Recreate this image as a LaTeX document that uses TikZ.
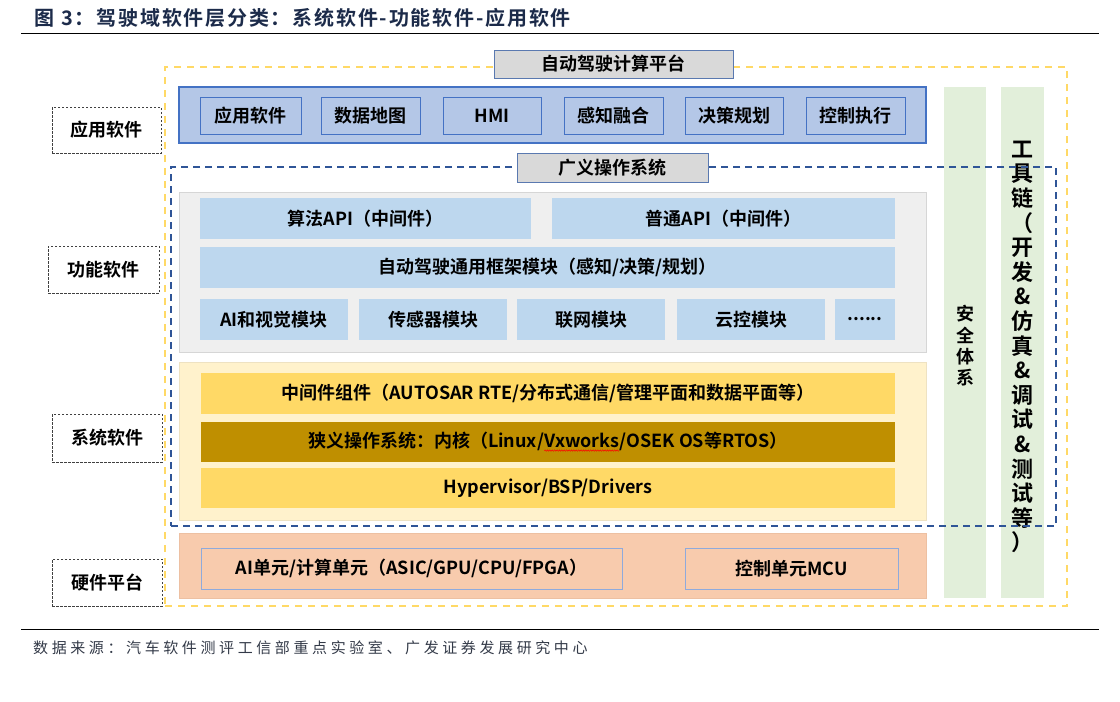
\documentclass[tikz,border=0pt]{standalone}
\usepackage{fontspec}
\setmainfont{Noto Sans CJK SC}[BoldFont=* Bold]
\newfontfamily\titlefont{Noto Sans CJK SC}[BoldFont=* Bold, LetterSpace=9]
\newfontfamily\capfont{Noto Sans CJK SC}[LetterSpace=24]
\usetikzlibrary{decorations.pathmorphing}
\definecolor{appfill}{HTML}{B4C7E7}
\definecolor{appline}{HTML}{4472C4}
\definecolor{funcbg}{HTML}{EFEFEF}
\definecolor{funcline}{HTML}{D6D6D6}
\definecolor{funcbox}{HTML}{BDD7EE}
\definecolor{sysbg}{HTML}{FFF2CC}
\definecolor{sysline}{HTML}{EEE2C2}
\definecolor{sysbox}{HTML}{FFD966}
\definecolor{osbox}{HTML}{BF8F00}
\definecolor{hwbg}{HTML}{F8CBAD}
\definecolor{hwedge}{HTML}{EDC0A2}
\definecolor{hwline}{HTML}{8FAADC}
\definecolor{greencol}{HTML}{E2EFDA}
\definecolor{graylbl}{HTML}{D9D9D9}
\definecolor{lblline}{HTML}{5A79B0}
\definecolor{dashblue}{HTML}{2F5597}
\definecolor{dashyellow}{HTML}{FFD966}
\definecolor{titlecol}{HTML}{1C2B4A}
\definecolor{capcol}{HTML}{333A48}
\newcommand\mybox[7]{\node[inner sep=0pt, outer sep=0pt, #6, minimum width={#4-#2}, minimum height={#5-#3}] (#1) at ({(#2+#4)/2},{(#3+#5)/2}) {#7};}
\tikzset{
  tx/.style={align=center, font=\fontsize{18}{21.6}\selectfont\bfseries, text=black},
  outerdash/.style={draw=dashyellow, line width=2pt, dash pattern=on 7pt off 6pt},
  platelbl/.style={tx, draw=lblline, line width=1pt, fill=graylbl},
  appcont/.style={draw=appline, line width=1.2pt, fill=appfill},
  appitem/.style={tx, draw=appline, line width=1pt, fill=appfill},
  funccont/.style={draw=funcline, line width=0.8pt, fill=funcbg},
  funcitem/.style={tx, fill=funcbox},
  syscont/.style={draw=sysline, line width=0.8pt, fill=sysbg},
  sysitem/.style={tx, fill=sysbox},
  ositem/.style={tx, fill=osbox},
  hwcont/.style={draw=hwedge, line width=0.8pt, fill=hwbg},
  hwitem/.style={tx, draw=hwline, line width=1pt, fill=hwbg},
  colbox/.style={fill=greencol},
  bluedash/.style={draw=dashblue, line width=1.6pt, dash pattern=on 7pt off 5pt},
  sidelbl/.style={tx, draw=black!75, line width=0.8pt, dash pattern=on 2.5pt off 1.5pt, fill=white},
  inword/.style={inner sep=0pt, outer sep=0pt, minimum width=0pt, minimum height=0pt, fill=none, draw=none, text=black},
  squig/.style={draw=red, line width=0.5pt, solid, decorate, decoration={snake, amplitude=0.7pt, segment length=2.4pt}}
}
\begin{document}
\begin{tikzpicture}[x=1pt,y=-1pt]
\useasboundingbox[fill=white] (0,0) rectangle (1120,702);

% title and rules
\node[anchor=west, inner sep=0pt, text=titlecol, font=\titlefont\bfseries\fontsize{20}{24}\selectfont] (title) at (34,18) {图\hspace{7pt}3：驾驶域软件层分类：系统软件-功能软件-应用软件};
\coordinate (r1a) at (21,33); \coordinate (r1b) at (1099,33);
\coordinate (r2a) at (21,629); \coordinate (r2b) at (1099,629);
\draw[line width=1pt] (r1a) -- (r1b);
\draw[line width=1pt] (r2a) -- (r2b);
\node[anchor=west, inner sep=0pt, text=capcol, font=\capfont\fontsize{15}{18}\selectfont] (src) at (33,648) {数据来源：汽车软件测评工信部重点实验室、广发证券发展研究中心};

% outer platform
\mybox{outer}{165}{67}{1067}{606}{outerdash}{}
\mybox{platform}{494}{50}{733}{78}{platelbl}{自动驾驶计算平台}

% application layer
\mybox{app}{179}{87}{926}{143}{appcont}{}
\mybox{a1}{200}{97}{301}{134}{appitem}{应用软件}
\mybox{a2}{321}{97}{420}{134}{appitem}{数据地图}
\mybox{a3}{443}{97}{541}{134}{appitem}{HMI}
\mybox{a4}{564}{97}{663}{134}{appitem}{感知融合}
\mybox{a5}{685}{97}{783}{134}{appitem}{决策规划}
\mybox{a6}{806}{97}{905}{134}{appitem}{控制执行}

% function layer
\mybox{func}{179}{192}{926}{352}{funccont}{}
\mybox{f1}{200}{198}{531}{239}{funcitem}{算法API（中间件）}
\mybox{f2}{552}{198}{895}{239}{funcitem}{普通API（中间件）}
\mybox{f3}{200}{247}{895}{288}{funcitem}{自动驾驶通用框架模块（感知/决策/规划）}
\mybox{f4}{200}{299}{348}{340}{funcitem}{AI和视觉模块}
\mybox{f5}{359}{299}{507}{340}{funcitem}{传感器模块}
\mybox{f6}{517}{299}{665}{340}{funcitem}{联网模块}
\mybox{f7}{677}{299}{825}{340}{funcitem}{云控模块}
\mybox{f8}{835}{299}{895}{340}{funcitem}{......}

% system layer
\mybox{sys}{179}{362}{926}{520}{syscont}{}
\mybox{s1}{201}{373}{895}{414}{sysitem}{中间件组件（AUTOSAR RTE/分布式通信/管理平面和数据平面等）}
\mybox{s2}{201}{422}{895}{462}{ositem}{狭义操作系统：内核（Linux/\tikz[baseline=(vx.base)]{\node[inword] (vx) {Vxworks}; \draw[squig] ([yshift=-2.6pt]vx.base west) -- ([yshift=-2.6pt]vx.base east);}/OSEK OS等RTOS）}
\mybox{s3}{201}{468}{895}{508}{sysitem}{Hypervisor/BSP/Drivers}

% hardware layer
\mybox{hw}{179}{533}{926}{598}{hwcont}{}
\mybox{h1}{201}{548}{622}{589}{hwitem}{AI单元/计算单元（ASIC/GPU/CPU/FPGA）}
\mybox{h2}{685}{548}{898}{589}{hwitem}{控制单元MCU}

% side columns
\mybox{safe}{944}{87}{986}{598}{colbox}{}
\mybox{tool}{1001}{87}{1044}{598}{colbox}{}
\node[tx, inner sep=0pt, font=\fontsize{18}{21.3}\selectfont\bfseries] (safetxt) at (965,346) {安\\全\\体\\系};
\node[tx, inner sep=0pt, font=\fontsize{22}{24.6}\selectfont\bfseries] (tooltxt) at (1022.5,347) {工\\具\\链\\（\\开\\发\\\&\\仿\\真\\\&\\调\\试\\\&\\测\\试\\等\\）};

% generalized OS dashed region
\mybox{genos}{171}{167}{1056}{526}{bluedash}{}
\mybox{genoslbl}{517}{153}{708}{182}{platelbl}{广义操作系统}

% left labels
\mybox{l1}{52}{107}{161}{153}{sidelbl}{应用软件}
\mybox{l2}{48}{246}{159}{293}{sidelbl}{功能软件}
\mybox{l3}{52}{414}{162}{462}{sidelbl}{系统软件}
\mybox{l4}{52}{559}{162}{606}{sidelbl}{硬件平台}
\end{tikzpicture}
\end{document}
